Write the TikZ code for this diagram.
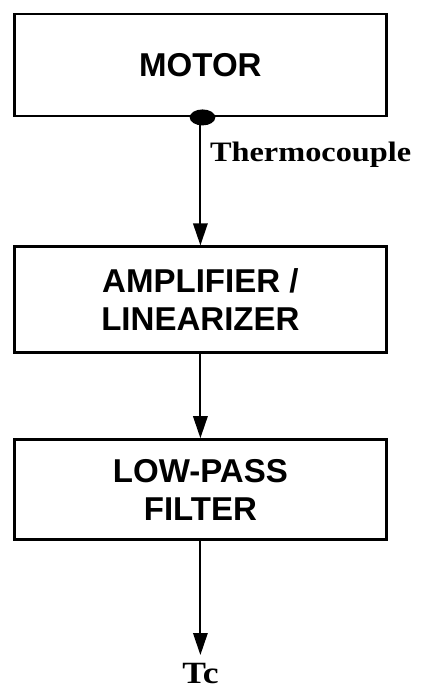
\documentclass[tikz,border=0pt]{standalone}
\usepackage{fontspec}
\setmainfont{Liberation Serif}
\setsansfont{Liberation Sans}
\newfontfamily\tagfont[FakeStretch=1.15]{Liberation Serif}
\usetikzlibrary{arrows.meta,positioning}

\begin{document}
\begin{tikzpicture}[
      node distance=3.2cm,
      box/.style={rectangle, draw, line width=2pt, minimum width=9.3cm, align=center, font=\sffamily\bfseries\fontsize{23.5}{27}\selectfont},
      tag/.style={font=\tagfont\bfseries\fontsize{20}{24}\selectfont},
      arr/.style={-{Triangle[length=5.5mm, width=3.6mm]}, line width=1.4pt},
    ]
    \useasboundingbox (0,0) rectangle (10.9,-17.225);
    \node[box, minimum height=2.55cm] (motor) at (5.01,-1.625) {MOTOR};
    \node[box, minimum height=2.65cm, below=3.2cm of motor] (amp) {AMPLIFIER /\\LINEARIZER};
    \node[box, minimum height=2.5cm, below=2.1cm of amp] (filter) {LOW-PASS\\FILTER};
    \node[tag, font=\tagfont\bfseries\fontsize{22}{26}\selectfont, inner sep=0.2cm, below=2.85cm of filter] (tc) {Tc};
    \fill ([xshift=1.5pt]motor.south) ellipse [x radius=0.32cm, y radius=0.2cm];
    \draw[arr] (motor) -- node[tag, right, pos=0.29, xshift=0.1cm] (thermo) {Thermocouple} (amp);
    \draw[arr] (amp) -- (filter);
    \draw[arr] (filter) -- (tc);
  \end{tikzpicture}
\end{document}
